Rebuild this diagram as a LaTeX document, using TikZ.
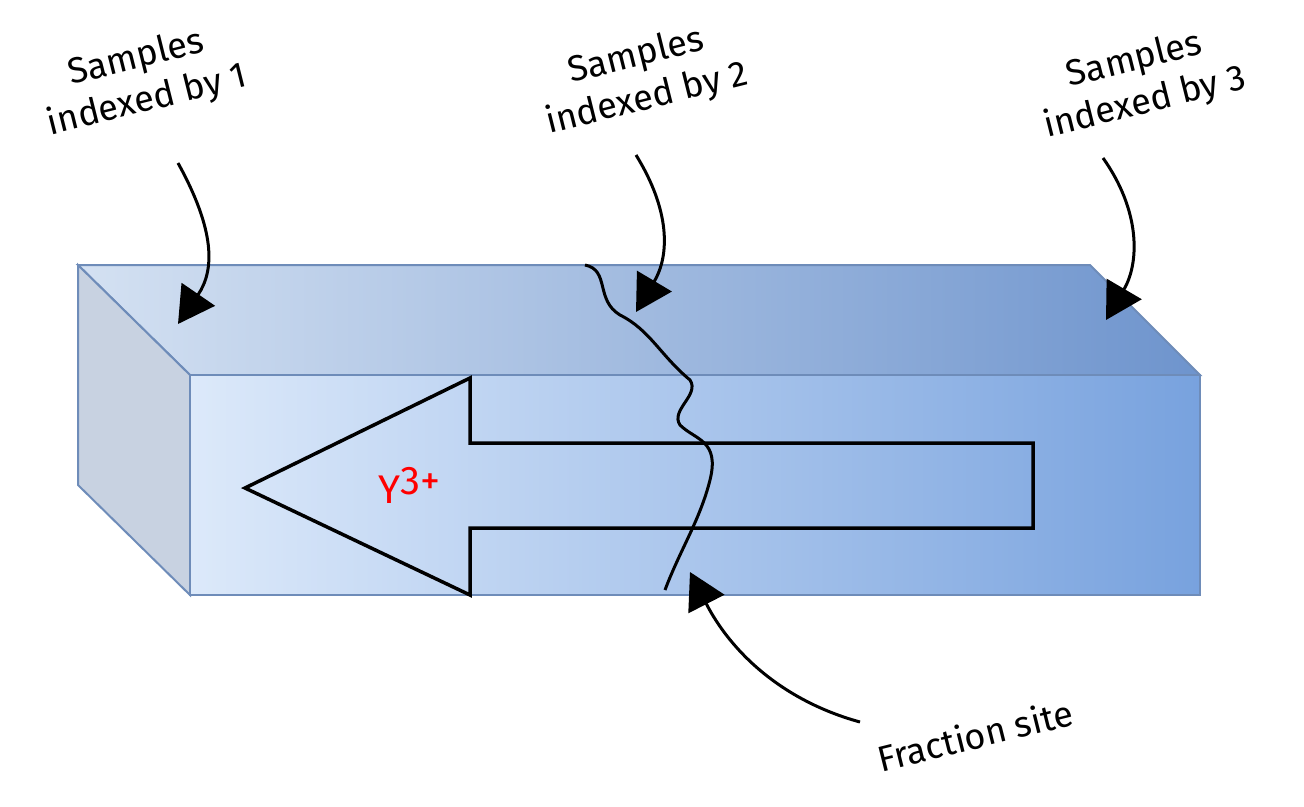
\documentclass[tikz,border=0pt]{standalone}
\usepackage{fontspec}
\setmainfont{Fira Sans}
\usetikzlibrary{arrows.meta}
\begin{document}
\begin{tikzpicture}[x=1pt,y=-1pt,
  face/.style={draw={rgb,255:red,110;green,140;blue,185}, line width=2pt},
  lab/.style={font=\fontsize{36}{44}\selectfont, align=center, rotate=14},
  pointer/.style={line width=3pt, -{Triangle[length=36pt,width=40pt]}}]
\useasboundingbox (0,0) rectangle (1304,806);
\definecolor{topL}{RGB}{212,225,242}
\definecolor{topR}{RGB}{110,148,205}
\definecolor{frL}{RGB}{220,233,250}
\definecolor{frR}{RGB}{120,162,222}
\definecolor{sideC}{RGB}{200,210,225}
\fill[left color=topL,right color=topR] (78,265)--(1090,265)--(1200,375)--(190,375)--cycle;
\draw[face] (78,265)--(1090,265)--(1200,375)--(190,375)--cycle;
\fill[sideC] (78,265)--(190,375)--(190,595)--(78,485)--cycle;
\draw[face] (78,265)--(190,375)--(190,595)--(78,485)--cycle;
\fill[left color=frL,right color=frR] (190,375) rectangle (1200,595);
\draw[face] (190,375) rectangle (1200,595);
\draw[line width=3.5pt, line join=miter] (245,488)--(470,378)--(470,443)--(1033,443)--(1033,528)--(470,528)--(470,595)--cycle;
\node[text=red, font=\fontsize{40}{48}\selectfont] (y) at (410,485) {Y$^{\textrm{3+}}$};
\draw[line width=3pt] (585,265) .. controls (610,270) and (595,300) .. (620,315)
  .. controls (650,330) and (660,355) .. (690,380) .. controls (700,395) and (670,410) .. (680,425)
  .. controls (695,440) and (720,440) .. (710,480) .. controls (700,520) and (680,550) .. (665,590);
\node[lab] (l1) at (142,80) {Samples\\indexed by 1};
\node[lab] (l2) at (642,78) {Samples\\indexed by 2};
\node[lab] (l3) at (1140,82) {Samples\\indexed by 3};
\node[lab] (fs) at (975,735) {Fraction site};
\coordinate (a1) at (178,324);
\coordinate (a2) at (636,312);
\coordinate (a3) at (1106,320);
\coordinate (a4) at (690,572);
\draw[pointer] (178,163) .. controls (215,230) and (215,270) .. (a1);
\draw[pointer] (636,155) .. controls (670,210) and (670,255) .. (a2);
\draw[pointer] (1103,158) .. controls (1140,210) and (1140,262) .. (a3);
\draw[pointer] (860,722) .. controls (780,700) and (730,650) .. (a4);
\end{tikzpicture}
\end{document}
